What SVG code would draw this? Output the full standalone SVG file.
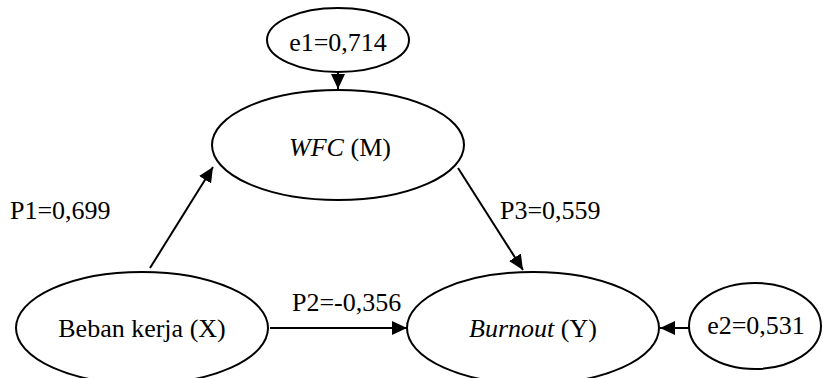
<svg xmlns="http://www.w3.org/2000/svg" width="823" height="378" viewBox="0 0 823 378">
<defs>
<marker id="ah" markerWidth="15" markerHeight="15" refX="15" refY="7" orient="auto" markerUnits="userSpaceOnUse" viewBox="0 0 15 14">
<path d="M0,0 L15,7 L0,14 z" fill="#000"/>
</marker>
<style>
ellipse{fill:#fff;stroke:#000;stroke-width:2}
text{font-family:"Liberation Serif","Times New Roman",serif;font-size:26px;fill:#000}
.c{text-anchor:middle}
line{stroke:#000;stroke-width:2;marker-end:url(#ah)}
</style>
</defs>
<rect width="823" height="378" fill="#fff"/>
<g id="connectors">
<line x1="338" y1="57" x2="338" y2="89"/>
<line x1="150" y1="268" x2="213" y2="167"/>
<line x1="458" y1="168" x2="523" y2="270"/>
<line x1="270" y1="328" x2="407" y2="328"/>
<line x1="689" y1="328" x2="660" y2="328"/>
<text x="10" y="219">P1=0,699</text>
<text x="500" y="219">P3=0,559</text>
<text x="292" y="311">P2=-0,356</text>
</g>
<g id="e1"><ellipse cx="338" cy="40" rx="71" ry="32"/><text class="c" x="338" y="51">e1=0,714</text></g>
<g id="wfc"><ellipse cx="338" cy="145" rx="126" ry="55"/><text class="c" x="340" y="156"><tspan font-style="italic">WFC</tspan> (M)</text></g>
<g id="x"><ellipse cx="142" cy="328" rx="126" ry="56"/><text class="c" x="142" y="337">Beban kerja (X)</text></g>
<g id="y"><ellipse cx="533" cy="328" rx="126" ry="56"/><text class="c" x="533" y="337"><tspan font-style="italic">Burnout</tspan> (Y)</text></g>
<g id="e2"><ellipse cx="755" cy="326" rx="66" ry="43"/><text class="c" x="756" y="334">e2=0,531</text></g>
</svg>
